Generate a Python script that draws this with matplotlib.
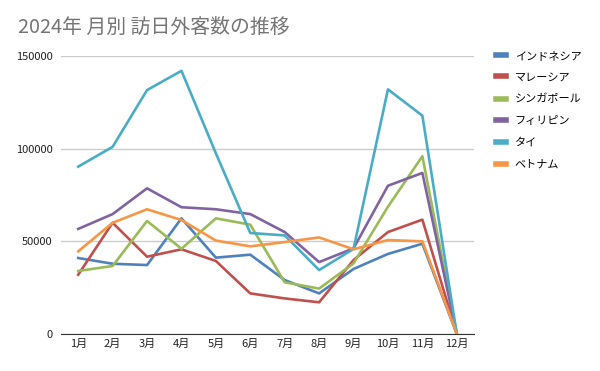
import matplotlib
matplotlib.use("Agg")
import matplotlib.pyplot as plt

plt.rcParams['font.family'] = ['Noto Sans CJK JP', 'DejaVu Sans']

months = ["1月", "2月", "3月", "4月", "5月", "6月", "7月", "8月", "9月", "10月", "11月", "12月"]
indonesia = [41000, 37900, 37200, 62400, 41200, 42800, 29100, 21900, 35100, 43200, 48700, 0]
malaysia = [32000, 60000, 41700, 45700, 39400, 21900, 19200, 17100, 39900, 55000, 61700, 0]
singapore = [34000, 36700, 61000, 46000, 62400, 59000, 27900, 24500, 38100, 68700, 95900, 0]
philippines = [56700, 64700, 78600, 68400, 67300, 64700, 55000, 38800, 46200, 80000, 86900, 0]
thailand = [90300, 101000, 131600, 142000, 97500, 54500, 53200, 34500, 45900, 132000, 117800, 0]
vietnam = [44600, 60000, 67300, 61500, 50400, 47300, 49600, 52100, 45700, 50700, 50000, 0]

names = ["インドネシア", "マレーシア", "シンガポール", "フィリピン", "タイ", "ベトナム"]
series = [indonesia, malaysia, singapore, philippines, thailand, vietnam]
colors = ["#4F81BD", "#C0504D", "#9BBB59", "#8064A2", "#4BACC6", "#F79646"]

fig = plt.figure(figsize=(6, 3.71), dpi=100)
ax = fig.add_axes([61/600, 1-334/371, (474-61)/600, (334-56)/371])

x = range(len(months))
for name, vals, c in zip(names, series, colors):
    ax.plot(x, vals, color=c, lw=1.9, label=name)

ax.set_xlim(-0.5, 11.5)
ax.set_ylim(0, 150000)
ax.set_yticks([0, 50000, 100000, 150000])
ax.set_yticklabels(["0", "50000", "100000", "150000"])
ax.set_xticks(list(x))
ax.set_xticklabels(months)
ax.tick_params(length=0, labelsize=8, colors="#222222")
ax.tick_params(axis='y', pad=6)
ax.grid(axis='y', color="#cccccc", lw=1)
ax.set_axisbelow(True)
for s in ["left", "right", "top"]:
    ax.spines[s].set_visible(False)
ax.spines["bottom"].set_color("#333333")

fig.text(18/600, 1-27/371, "2024年 月別 訪日外客数の推移", fontsize=14.3, color="#757575",
         ha="left", va="center")

leg = ax.legend(loc="upper left", bbox_to_anchor=(1.03, 1.055), frameon=False,
                fontsize=8, handlelength=0.9, labelspacing=1.05, handletextpad=0.75)
for line in leg.get_lines():
    line.set_linewidth(4)

fig.savefig("out.png", dpi=100)
